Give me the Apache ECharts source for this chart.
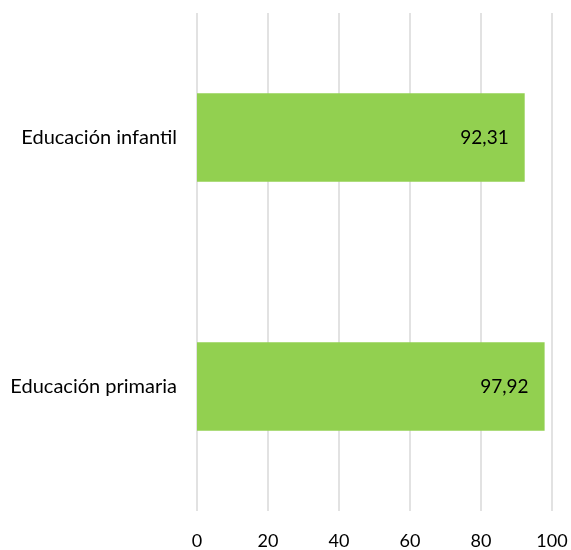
<!DOCTYPE html>
<html>
<head>
<meta charset="utf-8">
<script src="https://cdn.jsdelivr.net/npm/echarts@6/dist/echarts.min.js"></script>
<style>html,body{margin:0;padding:0;background:#fff;}#c{width:571px;height:550px;}</style>
</head>
<body>
<div id="c"></div>
<script>
const categories = ["Educación infantil", "Educación primaria"];
const values = [92.31, 97.92];
const xTicks = [0, 20, 40, 60, 80, 100];

const chart = echarts.init(document.getElementById('c'), null, {renderer: 'canvas'});
const font = 'Lato, "Open Sans", sans-serif';
chart.setOption({
  animation: false,
  grid: {left: 197, right: 19, top: 13, bottom: 37, containLabel: false},
  xAxis: {
    type: 'value', min: xTicks[0], max: xTicks[xTicks.length - 1], interval: 20,
    axisLine: {show: false}, axisTick: {show: false},
    splitLine: {show: true, lineStyle: {color: '#d9d9d9', width: 1.5}},
    axisLabel: {color: '#000', fontSize: 18, fontFamily: font, margin: 21}
  },
  yAxis: {
    type: 'category', data: categories, inverse: true,
    axisLine: {show: false}, axisTick: {show: false},
    axisLabel: {color: '#000', fontSize: 20, fontFamily: font, margin: 20}
  },
  series: [{
    type: 'bar', data: values, barWidth: '35.5%',
    itemStyle: {color: '#92d050'},
    label: {
      show: true, position: 'insideRight', distance: 16,
      color: '#000', fontSize: 19, fontFamily: font,
      formatter: p => p.value.toFixed(2).replace('.', ',')
    }
  }]
});
</script>
</body>
</html>
